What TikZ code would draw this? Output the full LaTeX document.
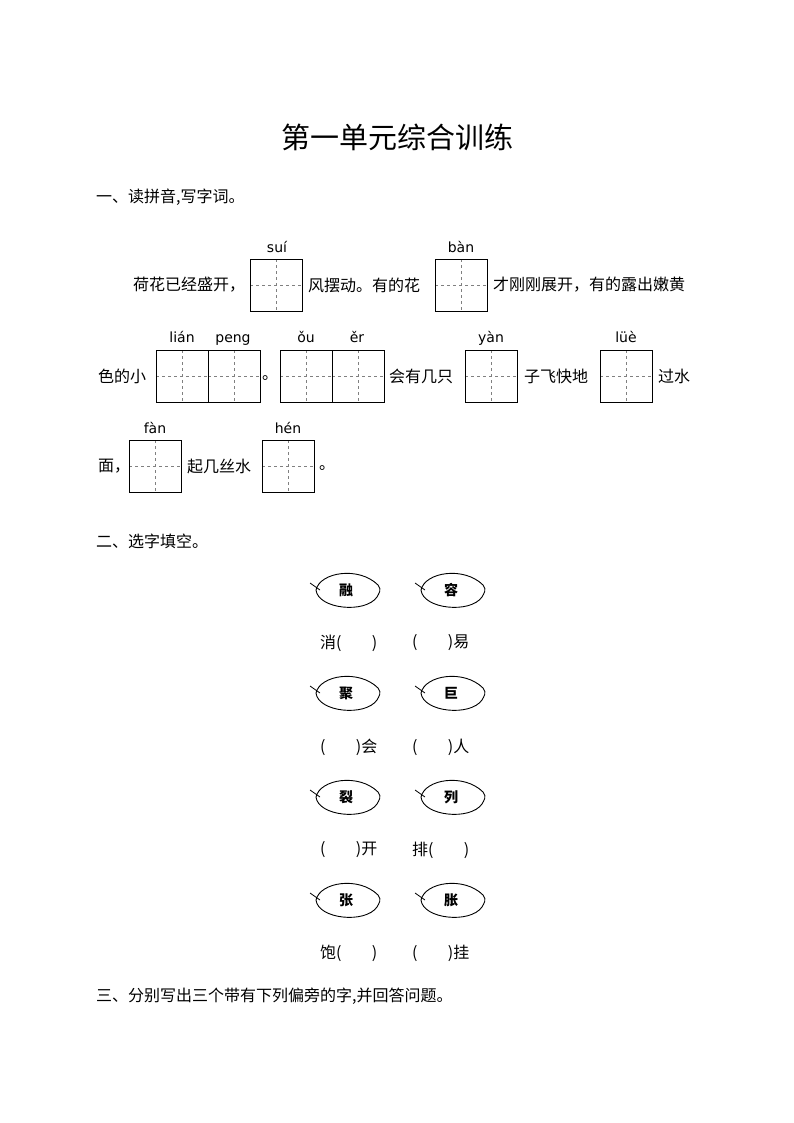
\documentclass[tikz,border=0pt]{standalone}
\usepackage{fontspec}
\setmainfont{Noto Sans CJK SC}
\newfontfamily\py{DejaVu Sans}
\begin{document}
\begin{tikzpicture}[x=1pt,y=-1pt,
 txt/.style={inner sep=0,font=\fontsize{16}{16}\selectfont},
 pin/.style={inner sep=0,anchor=base,font=\py\fontsize{14}{14}\selectfont},
 grid/.style={draw,gray,dashed,line width=0.4pt},
 box/.style={draw,line width=0.7pt}]
\useasboundingbox (0,0) rectangle (794,1123);
\newcommand\tz[3]{% x, y top, n cells
 \foreach \i in {1,...,#3}{
  \pgfmathsetmacro\xa{#1+(\i-1)*52}
  \draw[grid] (\xa+26,#2) -- (\xa+26,#2+52);
  \draw[grid] (\xa,#2+26) -- (\xa+52,#2+26);
  \draw[box] (\xa,#2) rectangle (\xa+52,#2+52);}}
\node[inner sep=0,font=\fontsize{29}{29}\selectfont] (title) at (397,137) {第一单元综合训练};
\node[txt,anchor=west] (h1) at (96,197) {一、读拼音,写字词。};
% row 1
\node[txt,anchor=west] (t1) at (133,285) {荷花已经盛开，};
\tz{250}{259}{1}
\node[txt,anchor=west] (t2) at (308,285) {风摆动。有的花};
\tz{435}{259}{1}
\node[txt,anchor=west] (t3) at (493,285) {才刚刚展开，有的露出嫩黄};
\node[pin] (p1) at (277,252) {suí};
\node[pin] (p2) at (461,252) {bàn};
% row 2
\node[txt,anchor=west] (t4) at (98,376) {色的小};
\tz{156}{350}{2}
\node[txt] (t5) at (270,378) {。};
\tz{280}{350}{2}
\node[txt,anchor=west] (t6) at (389,376) {会有几只};
\tz{465}{350}{1}
\node[txt,anchor=west] (t7) at (524,376) {子飞快地};
\tz{600}{350}{1}
\node[txt,anchor=west] (t8) at (658,376) {过水};
\node[pin] (p3) at (182,342) {lián};
\node[pin] (p4) at (233,342) {peng};
\node[pin] (p5) at (306,342) {ǒu};
\node[pin] (p6) at (357,342) {ěr};
\node[pin] (p7) at (491,342) {yàn};
\node[pin] (p8) at (626,342) {lüè};
% row 3
\node[txt,anchor=west] (t9) at (98,466) {面，};
\tz{129}{440}{1}
\node[txt,anchor=west] (t10) at (187,466) {起几丝水};
\tz{262}{440}{1}
\node[txt] (t11) at (327,468) {。};
\node[pin] (p9) at (155,433) {fàn};
\node[pin] (p10) at (288,433) {hén};
\node[txt,anchor=west] (h2) at (96,541) {二、选字填空。};
% leaves
\newcommand\leaf[3]{%
 \draw[line width=0.9pt] (#1-31,#2) .. controls (#1-27,#2-18) and (#1+12,#2-24) .. (#1+31,#2-5)
   .. controls (#1+35,#2) and (#1+32,#2+3) .. (#1+30,#2+7)
   .. controls (#1+18,#2+24) and (#1-29,#2+19) .. (#1-31,#2);
 \draw[line width=0.8pt] (#1-37,#2-7) -- (#1-27,#2);
 \node[inner sep=0,font=\bfseries\fontsize{14}{14}\selectfont] at (#1-1,#2) {#3};}
\leaf{347}{590}{融}\leaf{452}{590}{容}
\leaf{347}{693}{聚}\leaf{452}{693}{巨}
\leaf{347}{797}{裂}\leaf{452}{797}{列}
\leaf{347}{900}{张}\leaf{452}{900}{胀}
\node[txt,anchor=west] (a1) at (320,643) {消(\hspace{1.9em})};
\node[txt,anchor=west] (a2) at (412,643) {(\hspace{1.9em})易};
\node[txt,anchor=west] (b1) at (320,747) {(\hspace{1.9em})会};
\node[txt,anchor=west] (b2) at (412,747) {(\hspace{1.9em})人};
\node[txt,anchor=west] (c1) at (320,850) {(\hspace{1.9em})开};
\node[txt,anchor=west] (c2) at (412,850) {排(\hspace{1.9em})};
\node[txt,anchor=west] (d1) at (320,953) {饱(\hspace{1.9em})};
\node[txt,anchor=west] (d2) at (412,953) {(\hspace{1.9em})挂};
\node[txt,anchor=west] (h3) at (96,996) {三、分别写出三个带有下列偏旁的字,并回答问题。};
\end{tikzpicture}
\end{document}
